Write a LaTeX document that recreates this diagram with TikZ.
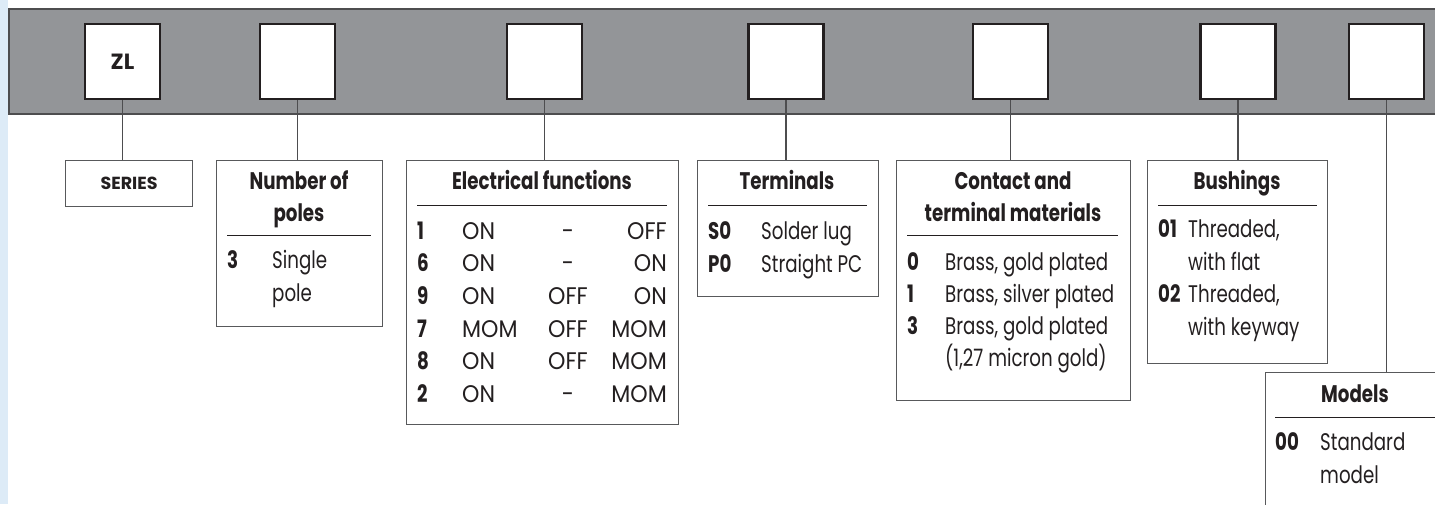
\documentclass[tikz,border=0pt]{standalone}
\usepackage{fontspec}
\setmainfont{Poppins}[FakeStretch=0.76]
\newfontfamily\widefont{Poppins}
\newfontfamily\capsfont{Poppins}[FakeStretch=0.92]
\definecolor{barfill}{HTML}{939598}
\definecolor{barline}{HTML}{4D4D4F}
\definecolor{strip}{HTML}{DDEBF7}
\definecolor{ink}{HTML}{231F20}
\definecolor{boxline}{HTML}{58595B}
\begin{document}
\begin{tikzpicture}[x=1pt,y=-1pt,
  slot/.style={draw=ink, line width=2.6pt, fill=white, minimum width=75pt, minimum height=75pt, inner sep=0pt, text=ink, font=\widefont\bfseries\fontsize{22}{24}\selectfont},
  info/.style={draw=boxline, line width=1.1pt, fill=white, anchor=north west, inner sep=0pt, text=ink},
  conn/.style={draw=barline, line width=1.1pt},
  rulel/.style={draw=ink, line width=1pt},
  ttl/.style={inner sep=0pt, anchor=base, text=ink, font=\bfseries\fontsize{24}{28}\selectfont},
  code/.style={inner sep=0pt, anchor=base west, text=ink, font=\bfseries\fontsize{24}{28}\selectfont},
  txt/.style={inner sep=0pt, anchor=base west, text=ink, font=\fontsize{24}{28}\selectfont},
  capw/.style={inner sep=0pt, anchor=base west, text=ink, font=\capsfont\fontsize{24}{28}\selectfont},
  capc/.style={capw, anchor=base},
  cape/.style={capw, anchor=base east}]
\useasboundingbox (0,0) rectangle (1435,504);
\clip (0,0) rectangle (1435,504);
\fill[white] (0,0) rectangle (1435,504);
\fill[strip] (0,0) rectangle (8,504);
% bar
\draw[fill=barfill, draw=barline, line width=1.6pt] (9,9) rectangle (1445,114);
% slots
\node[slot] (b1) at (122.5,61.5) {ZL};
\node[slot] (b2) at (297.5,61.5) {};
\node[slot] (b3) at (544.5,61.5) {};
\node[slot] (b4) at (786,61.5) {};
\node[slot] (b5) at (1010.5,61.5) {};
\node[slot] (b6) at (1238,61.5) {};
\node[slot] (b7) at (1386.5,61.5) {};
% info boxes
\node[info, minimum width=127pt, minimum height=46pt, font=\widefont\bfseries\fontsize{17.5}{20}\selectfont] (series) at (65,160) {SERIES};
\node[info, minimum width=166pt, minimum height=166pt] (poles) at (216,160) {};
\node[info, minimum width=272pt, minimum height=264pt] (elec) at (406,160) {};
\node[info, minimum width=181pt, minimum height=136pt] (term) at (697,160) {};
\node[info, minimum width=234pt, minimum height=240pt] (contact) at (896,160) {};
\node[info, minimum width=180pt, minimum height=203pt] (bush) at (1147,160) {};
\node[info, minimum width=200pt, minimum height=200pt] (models) at (1265,372) {};
% connectors
\draw[conn] (b1.south) -- (b1.south |- series.north);
\draw[conn] (b2.south) -- (b2.south |- poles.north);
\draw[conn] (b3.south) -- (b3.south |- elec.north);
\draw[conn] (b4.south) -- (b4.south |- term.north);
\draw[conn] (b5.south) -- (b5.south |- contact.north);
\draw[conn] (b6.south) -- (b6.south |- bush.north);
\draw[conn] (b7.south) -- (b7.south |- models.north);
% Number of poles
\node[ttl] (polesT1) at (299,189) {Number of};
\node[ttl] (polesT2) at (299,221) {poles};
\draw[rulel] (227,235) -- (371,235);
\node[code] (pc1) at (227,268) {3};
\node[txt] (pd1) at (272,268) {Single};
\node[txt] (pd2) at (272,301) {pole};
% Electrical functions
\node[ttl] (elecT) at (542,189) {Electrical functions};
\draw[rulel] (417,205) -- (667,205);
\foreach \i/\c/\a/\b [count=\n from 0] in {1/ON/-/OFF, 6/ON/-/ON, 9/ON/OFF/ON, 7/MOM/OFF/MOM, 8/ON/OFF/MOM, 2/ON/-/MOM}{
  \node[code] (ec\n) at (417,239+32.7*\n) {\i};
  \node[capw] (ea\n) at (462,239+32.7*\n) {\c};
  \node[capc] (eb\n) at (568,239+32.7*\n) {\a};
  \node[cape] (ed\n) at (667,239+32.7*\n) {\b};
}
% Terminals
\node[ttl] (termT) at (787,189) {Terminals};
\draw[rulel] (708,205) -- (867,205);
\node[code] (tc1) at (708,239) {S0};
\node[txt] (td1) at (761,239) {Solder lug};
\node[code] (tc2) at (708,272) {P0};
\node[txt] (td2) at (761,272) {Straight PC};
% Contact and terminal materials
\node[ttl] (conT1) at (1013,189) {Contact and};
\node[ttl] (conT2) at (1013,221) {terminal materials};
\draw[rulel] (907,235) -- (1118,235);
\node[code] (cc1) at (907,270) {0};
\node[txt] (cd1) at (945,270) {Brass, gold plated};
\node[code] (cc2) at (907,302) {1};
\node[txt] (cd2) at (945,302) {Brass, silver plated};
\node[code] (cc3) at (907,334) {3};
\node[txt] (cd3) at (945,334) {Brass, gold plated};
\node[txt] (cd4) at (945,366.5) {(1,27 micron gold)};
% Bushings
\node[ttl] (bushT) at (1237,189) {Bushings};
\draw[rulel] (1158,205) -- (1317,205);
\node[code] (bc1) at (1158,237) {01};
\node[txt] (bd1) at (1188,237) {Threaded,};
\node[txt] (bd2) at (1188,270) {with flat};
\node[code] (bc2) at (1158,302.5) {02};
\node[txt] (bd3) at (1188,302.5) {Threaded,};
\node[txt] (bd4) at (1188,335) {with keyway};
% Models
\node[ttl] (modT) at (1355,402) {Models};
\draw[rulel] (1275,417) -- (1440,417);
\node[code] (mc1) at (1275,450) {00};
\node[txt] (md1) at (1320,450) {Standard};
\node[txt] (md2) at (1320,483) {model};
\end{tikzpicture}
\end{document}
